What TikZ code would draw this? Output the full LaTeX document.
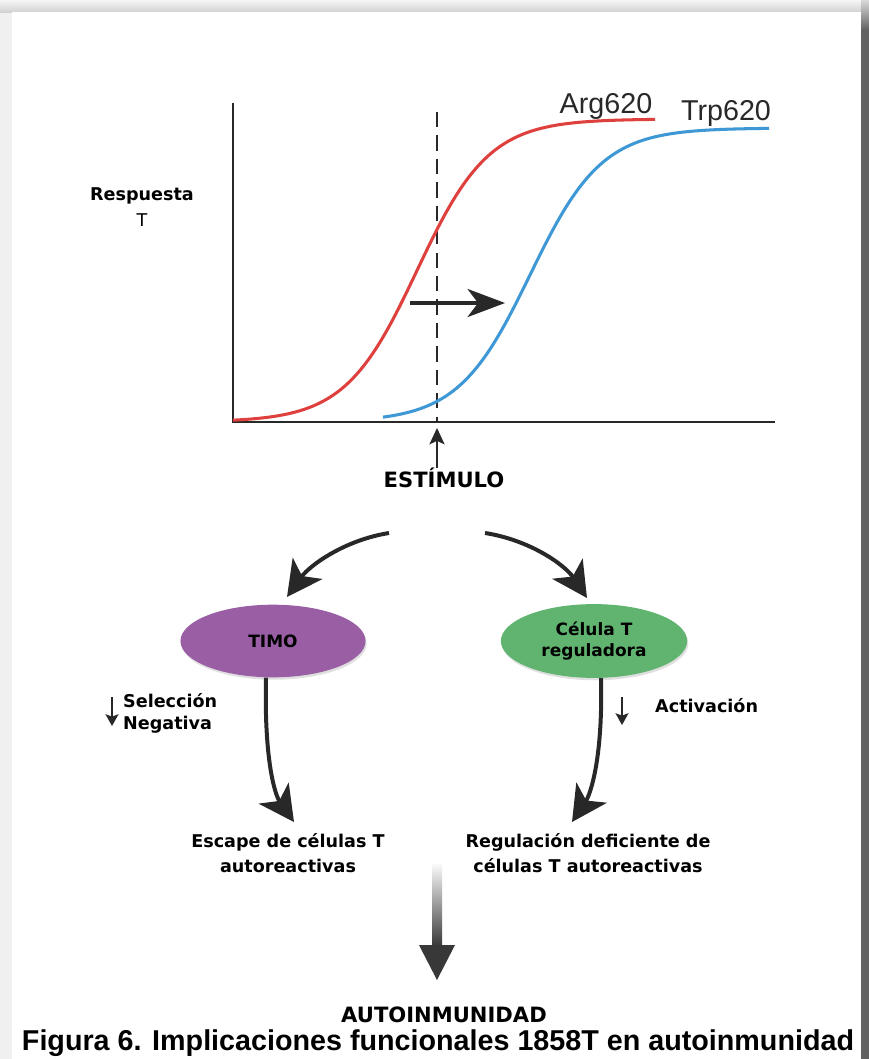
\documentclass[tikz,border=0pt]{standalone}
\usepackage{fontspec}
\setmainfont{Liberation Sans}
\newfontfamily\dejavu{DejaVu Sans}
\usetikzlibrary{arrows.meta,shapes.geometric,shadows}
\definecolor{argred}{RGB}{222,64,62}
\definecolor{trpblue}{RGB}{62,152,214}
\definecolor{timocol}{RGB}{153,94,164}
\definecolor{tregcol}{RGB}{96,180,112}
\definecolor{ink}{RGB}{40,40,40}
\begin{document}
\begin{tikzpicture}[x=0.03cm, y=-0.03cm,
  lbl/.style={inner sep=0pt, align=center, font=\dejavu\bfseries\fontsize{15}{19}\selectfont},
  curvelbl/.style={inner sep=0pt, text=ink, font=\fontsize{24.5}{28}\selectfont},
  organ/.style={ellipse, inner sep=0pt, align=center, drop shadow={opacity=0.25, shadow xshift=1pt, shadow yshift=-2pt},
    font=\dejavu\bfseries\fontsize{14.5}{18}\selectfont},
  bigarrow/.style={line width=3.4pt, ink, -{Stealth[length=30pt, width=31pt, inset=8pt]}},
  smallarrow/.style={line width=1.8pt, ink, -{Stealth[length=10pt, width=11pt, inset=2pt]}}]
  \useasboundingbox (0,0) rectangle (869,1059);
  % frame and shadow
  \fill[gray!12] (0,0) rectangle (869,1059);
  \shade[top color=gray!8, bottom color=gray!35] (0,0) rectangle (869,12);
  \fill[black!62] (861,30) rectangle (869,1059);
  \shade[top color=gray!30, bottom color=black!62] (861,0) rectangle (869,30);
  \fill[white] (12,12) rectangle (861,1059);
  % graph
  \draw[ink, line width=1.7pt] (233,103) -- (233,422) -- (775,422);
  \draw[ink, line width=1.5pt, dash pattern=on 13pt off 7pt] (437,112) -- (437,422);
  \draw[argred, line width=2.6pt] plot[domain=233:655, samples=90, smooth] (\x, {422-303/(1+exp(-(\x-417)/36))});
  \draw[trpblue, line width=2.6pt] plot[domain=383:769, samples=90, smooth] (\x, {422-294/(1+exp(-(\x-530)/36))});
  \node[curvelbl, anchor=base] (arg) at (606,113) {Arg620};
  \node[curvelbl, anchor=base] (trp) at (726,120) {Trp620};
  \coordinate (sh0) at (410,303);
  \coordinate (sh1) at (505,303);
  \draw[line width=2.6pt, ink, -{Stealth[length=32pt, width=24pt, inset=9pt]}] (sh0) -- (sh1); % shift
  \node[lbl] (resp) at (142,207) {Respuesta\\[3pt]\mdseries T};
  % stimulus
  \node[lbl, font=\dejavu\bfseries\fontsize{18}{21}\selectfont] (estim) at (444,478) {ESTÍMULO};
  \coordinate (up) at (437,428);
  \draw[ink, line width=1.2pt, -{Stealth[length=14pt, width=13pt, inset=3pt]}] (estim.north -| up) -- (up);
  % branches
  \node[organ, fill=timocol, minimum width=158pt, minimum height=62pt] (timo) at (273,641) {TIMO};
  \node[organ, fill=tregcol, minimum width=159pt, minimum height=63pt] (treg) at (594,641) {Célula T\\reguladora};
  \coordinate (splitL) at (389,533);
  \coordinate (splitR) at (485,533);
  \coordinate (inL) at (287,597);
  \coordinate (inR) at (587,598);
  \draw[bigarrow] (splitL) .. controls (345,540) and (310,565) .. (inL);
  \draw[bigarrow] (splitR) .. controls (530,540) and (565,565) .. (inR);
  % effects
  \node[lbl, align=left, anchor=west] (sel) at (123,713) {Selección\\Negativa};
  \draw[smallarrow] (112,697) -- (112,726);
  \node[lbl, anchor=west] (act) at (655,706) {Activación};
  \draw[smallarrow] (622,697) -- (622,725);
  \node[lbl, font=\dejavu\fontsize{15}{21}\selectfont\bfseries] (esc) at (288,853) {Escape de células T\\autoreactivas};
  \node[lbl, font=\dejavu\fontsize{15}{21}\selectfont\bfseries] (reg) at (588,853) {Regulación deficiente de\\células T autoreactivas};
  \draw[bigarrow] (timo.south -| 266,0) .. controls (264,760) and (275,795) .. (294,822);
  \draw[bigarrow] (treg.south -| 601,0) .. controls (603,760) and (590,795) .. (572,822);
  % outcome
  \node[lbl, font=\dejavu\bfseries\fontsize{18}{21}\selectfont] (auto) at (444,1015) {AUTOINMUNIDAD};
  \shade[top color=white, bottom color=black!78] (432,862) rectangle (442,946);
  \fill[black!78] (419,945) -- (455,945) -- (437,980) -- cycle;
  \node[inner sep=0pt, font=\bfseries\fontsize{24.5}{28}\selectfont] (cap) at (438,1043) {Figura 6. Implicaciones funcionales 1858T en autoinmunidad};
\end{tikzpicture}
\end{document}
